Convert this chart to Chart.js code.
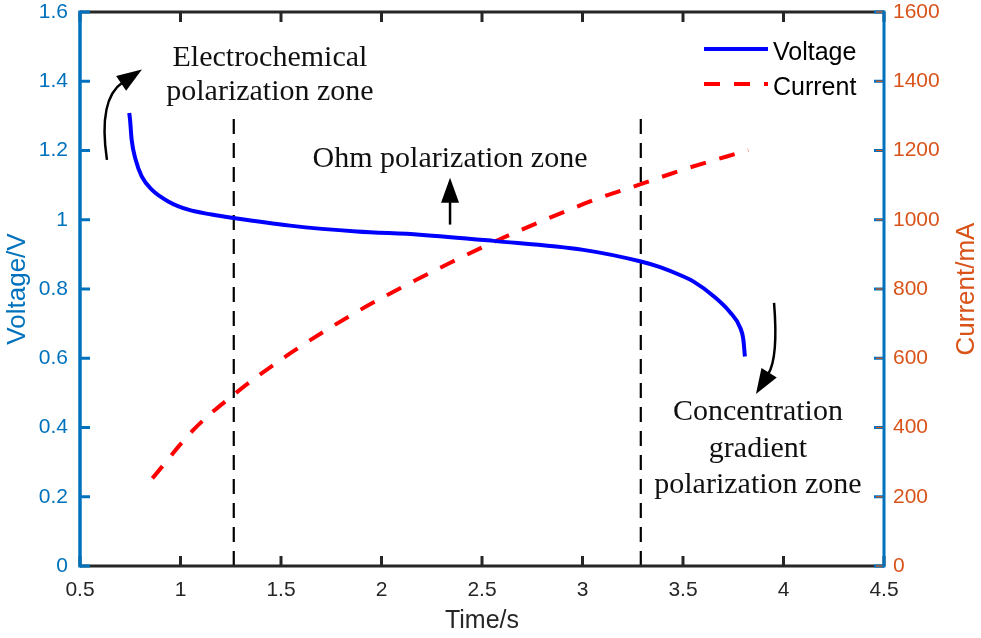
<!DOCTYPE html>
<html>
<head>
<meta charset="utf-8">
<script src="https://cdn.jsdelivr.net/npm/chart.js@4.4.1/dist/chart.umd.min.js"></script>
<style>
  html, body { margin: 0; padding: 0; background: #fff; }
  #wrap { width: 981px; height: 638px; }
</style>
</head>
<body>
<div id="wrap"><canvas id="c" width="981" height="638"></canvas></div>
<script>
// ---- data ----
const voltageTime = [0.745, 0.749, 0.757, 0.777, 0.807, 0.857, 0.939, 1.039, 1.155, 1.263, 1.545, 1.877, 2.19, 2.556, 3.004, 3.286, 3.386, 3.502, 3.551, 3.651, 3.734, 3.784, 3.800, 3.808];
const voltageValues = [1.308, 1.289, 1.231, 1.173, 1.125, 1.087, 1.053, 1.029, 1.015, 1.005, 0.983, 0.966, 0.957, 0.939, 0.913, 0.880, 0.863, 0.836, 0.822, 0.780, 0.733, 0.689, 0.655, 0.605];
const currentTime = [0.86, 1.064, 1.263, 1.545, 1.877, 2.108, 2.357, 2.556, 2.789, 3.071, 3.286, 3.502, 3.825];
const currentValues = [253, 393, 494, 614, 734, 807, 880, 935, 994, 1060, 1102, 1145, 1201];
const zoneBoundaries = [1.265, 3.29];
const zoneLineTop = 1.3;
const xTickLabels = ['0.5', '1', '1.5', '2', '2.5', '3', '3.5', '4', '4.5'];
const voltageTickLabels = ['0', '0.2', '0.4', '0.6', '0.8', '1', '1.2', '1.4', '1.6'];
const currentTickLabels = ['0', '200', '400', '600', '800', '1000', '1200', '1400', '1600'];
const seriesNames = ['Voltage', 'Current'];

// annotation texts (data coordinates)
const zoneTexts = [
  { text: 'Electrochemical', x: 1.445, y: 1.445 },
  { text: 'polarization zone', x: 1.445, y: 1.347 },
  { text: 'Ohm polarization zone', x: 2.341, y: 1.152 },
  { text: 'Concentration', x: 3.873, y: 0.4205 },
  { text: 'gradient', x: 3.873, y: 0.316 },
  { text: 'polarization zone', x: 3.873, y: 0.211 }
];
const zoneArrows = [
  { from: [0.634, 1.173], ctrl: [0.589, 1.349], tip: [0.808, 1.434] },
  { from: [2.341, 0.986], ctrl: [2.341, 1.05], tip: [2.341, 1.121] },
  { from: [3.953, 0.760], ctrl: [3.975, 0.602], tip: [3.863, 0.497] }
];

const BLUE_AX = '#0072BD';
const ORANGE_AX = '#D95319';
const DARK = '#262626';

const toPts = (xs, ys) => xs.map((x, i) => ({ x: x, y: ys[i] }));

const datasets = [
  {
    label: seriesNames[0], data: toPts(voltageTime, voltageValues), yAxisID: 'y',
    borderColor: '#0000FF', borderWidth: 4, pointRadius: 0, cubicInterpolationMode: 'monotone', fill: false
  },
  {
    label: seriesNames[1], data: toPts(currentTime, currentValues), yAxisID: 'y1',
    borderColor: '#FF0000', borderWidth: 4, borderDash: [16, 14], pointRadius: 0, cubicInterpolationMode: 'monotone', fill: false
  }
];
zoneBoundaries.forEach(b => {
  datasets.push({
    label: 'boundary', data: [{ x: b, y: 0 }, { x: b, y: zoneLineTop }], yAxisID: 'y',
    borderColor: '#000', borderWidth: 2.2, borderDash: [15, 9], pointRadius: 0, fill: false
  });
});

const framePlugin = {
  id: 'frame',
  afterDraw(chart) {
    const ctx = chart.ctx;
    const ca = chart.chartArea;
    const xs = chart.scales.x, ys = chart.scales.y, ys1 = chart.scales.y1;
    ctx.save();
    ctx.setLineDash([]);
    ctx.lineCap = 'butt';
    const TL = 10;
    ctx.strokeStyle = DARK; ctx.lineWidth = 3;
    xs.ticks.forEach(t => {
      const px = xs.getPixelForValue(t.value);
      ctx.beginPath(); ctx.moveTo(px, ca.bottom); ctx.lineTo(px, ca.bottom - TL); ctx.stroke();
      ctx.beginPath(); ctx.moveTo(px, ca.top); ctx.lineTo(px, ca.top + TL); ctx.stroke();
    });
    ctx.beginPath(); ctx.moveTo(ca.left, ca.bottom); ctx.lineTo(ca.right, ca.bottom); ctx.stroke();
    ctx.beginPath(); ctx.moveTo(ca.left, ca.top); ctx.lineTo(ca.right, ca.top); ctx.stroke();
    ctx.strokeStyle = BLUE_AX; ctx.lineWidth = 3;
    ys.ticks.forEach(t => {
      const py = ys.getPixelForValue(t.value);
      ctx.beginPath(); ctx.moveTo(ca.left, py); ctx.lineTo(ca.left + TL, py); ctx.stroke();
    });
    ctx.lineWidth = 3.5;
    ctx.beginPath(); ctx.moveTo(ca.left, ca.top - 1.5); ctx.lineTo(ca.left, ca.bottom + 1.5); ctx.stroke();
    ys1.ticks.forEach(t => {
      const py = ys1.getPixelForValue(t.value);
      ctx.strokeStyle = BLUE_AX; ctx.lineWidth = 3;
      ctx.beginPath(); ctx.moveTo(ca.right, py); ctx.lineTo(ca.right - TL, py); ctx.stroke();
      ctx.strokeStyle = ORANGE_AX; ctx.lineWidth = 1.2;
      ctx.beginPath(); ctx.moveTo(ca.right, py); ctx.lineTo(ca.right - TL + 2, py); ctx.stroke();
    });
    ctx.strokeStyle = BLUE_AX; ctx.lineWidth = 3;
    ctx.beginPath(); ctx.moveTo(ca.right, ca.top - 1.5); ctx.lineTo(ca.right, ca.bottom + 1.5); ctx.stroke();

    ctx.save();
    ctx.fillStyle = ORANGE_AX;
    ctx.font = '26px "Liberation Sans", Arial, sans-serif';
    ctx.textAlign = 'center'; ctx.textBaseline = 'middle';
    ctx.translate(967, (ca.top + ca.bottom) / 2);
    ctx.rotate(-Math.PI / 2);
    ctx.fillText('Current/mA', 0, 0);
    ctx.restore();

    ctx.fillStyle = '#111';
    ctx.font = '30px "Liberation Serif", "Times New Roman", serif';
    ctx.textAlign = 'center'; ctx.textBaseline = 'alphabetic';
    zoneTexts.forEach(z => {
      ctx.fillText(z.text, xs.getPixelForValue(z.x), ys.getPixelForValue(z.y));
    });

    ctx.strokeStyle = '#000'; ctx.fillStyle = '#000'; ctx.lineWidth = 2.5;
    zoneArrows.forEach(a => {
      const p0 = [xs.getPixelForValue(a.from[0]), ys.getPixelForValue(a.from[1])];
      const c = [xs.getPixelForValue(a.ctrl[0]), ys.getPixelForValue(a.ctrl[1])];
      const tip = [xs.getPixelForValue(a.tip[0]), ys.getPixelForValue(a.tip[1])];
      let dx = tip[0] - c[0], dy = tip[1] - c[1];
      const L = Math.hypot(dx, dy); dx /= L; dy /= L;
      const headLen = 25, headW = 18;
      const base = [tip[0] - dx * headLen, tip[1] - dy * headLen];
      ctx.beginPath(); ctx.moveTo(p0[0], p0[1]);
      ctx.quadraticCurveTo(c[0], c[1], base[0] + dx * 2, base[1] + dy * 2);
      ctx.stroke();
      ctx.beginPath();
      ctx.moveTo(tip[0], tip[1]);
      ctx.lineTo(base[0] - dy * headW / 2, base[1] + dx * headW / 2);
      ctx.lineTo(base[0] + dy * headW / 2, base[1] - dx * headW / 2);
      ctx.closePath(); ctx.fill();
    });

    ctx.font = '25px "Liberation Sans", Arial, sans-serif';
    ctx.textAlign = 'left'; ctx.textBaseline = 'alphabetic';
    const legY = [49, 84];
    [0, 1].forEach(i => {
      const ds = chart.data.datasets[i];
      ctx.strokeStyle = ds.borderColor; ctx.lineWidth = 4;
      ctx.setLineDash(ds.borderDash || []);
      ctx.beginPath(); ctx.moveTo(704, legY[i]); ctx.lineTo(768, legY[i]); ctx.stroke();
      ctx.setLineDash([]);
      ctx.fillStyle = '#000';
      ctx.fillText(ds.label, 773, legY[i] + 10.5);
    });
    ctx.restore();
  }
};

Chart.defaults.font.family = '"Liberation Sans", Arial, sans-serif';

const fixV = w => s => { s.width = w; s.paddingTop = 0; s.paddingBottom = 0; };

new Chart(document.getElementById('c'), {
  type: 'line',
  data: { datasets: datasets },
  options: {
    responsive: false,
    animation: false,
    layout: { padding: { top: 12, left: 0, right: 0, bottom: 0 } },
    plugins: { legend: { display: false }, tooltip: { enabled: false } },
    scales: {
      x: {
        type: 'linear', position: 'bottom', min: 0.5, max: 4.5,
        afterFit: s => { s.height = 72; s.paddingLeft = 0; s.paddingRight = 0; },
        grid: { display: false, drawTicks: false, tickLength: 0 },
        border: { display: false },
        ticks: {
          stepSize: 0.5, autoSkip: false, maxRotation: 0, padding: 12,
          color: DARK, font: { size: 21 },
          callback: (v, i) => xTickLabels[i]
        },
        title: { display: true, text: 'Time/s', color: DARK, font: { size: 25 }, padding: { top: 2, bottom: 2 } }
      },
      y: {
        type: 'linear', position: 'left', min: 0, max: 1.6,
        afterFit: fixV(80),
        grid: { display: false, drawTicks: false, tickLength: 0 },
        border: { display: false },
        ticks: {
          stepSize: 0.2, autoSkip: false, padding: 12,
          color: BLUE_AX, font: { size: 21 },
          callback: (v, i) => voltageTickLabels[i]
        },
        title: { display: true, text: 'Voltage/V', color: BLUE_AX, font: { size: 26 }, padding: { top: 2, bottom: 2 } }
      },
      y1: {
        type: 'linear', position: 'right', min: 0, max: 1600,
        afterFit: fixV(97),
        grid: { display: false, drawTicks: false, tickLength: 0 },
        border: { display: false },
        ticks: {
          stepSize: 200, autoSkip: false, padding: 9,
          color: ORANGE_AX, font: { size: 21 },
          callback: (v, i) => currentTickLabels[i]
        }
      }
    }
  },
  plugins: [framePlugin]
});
</script>
</body>
</html>
